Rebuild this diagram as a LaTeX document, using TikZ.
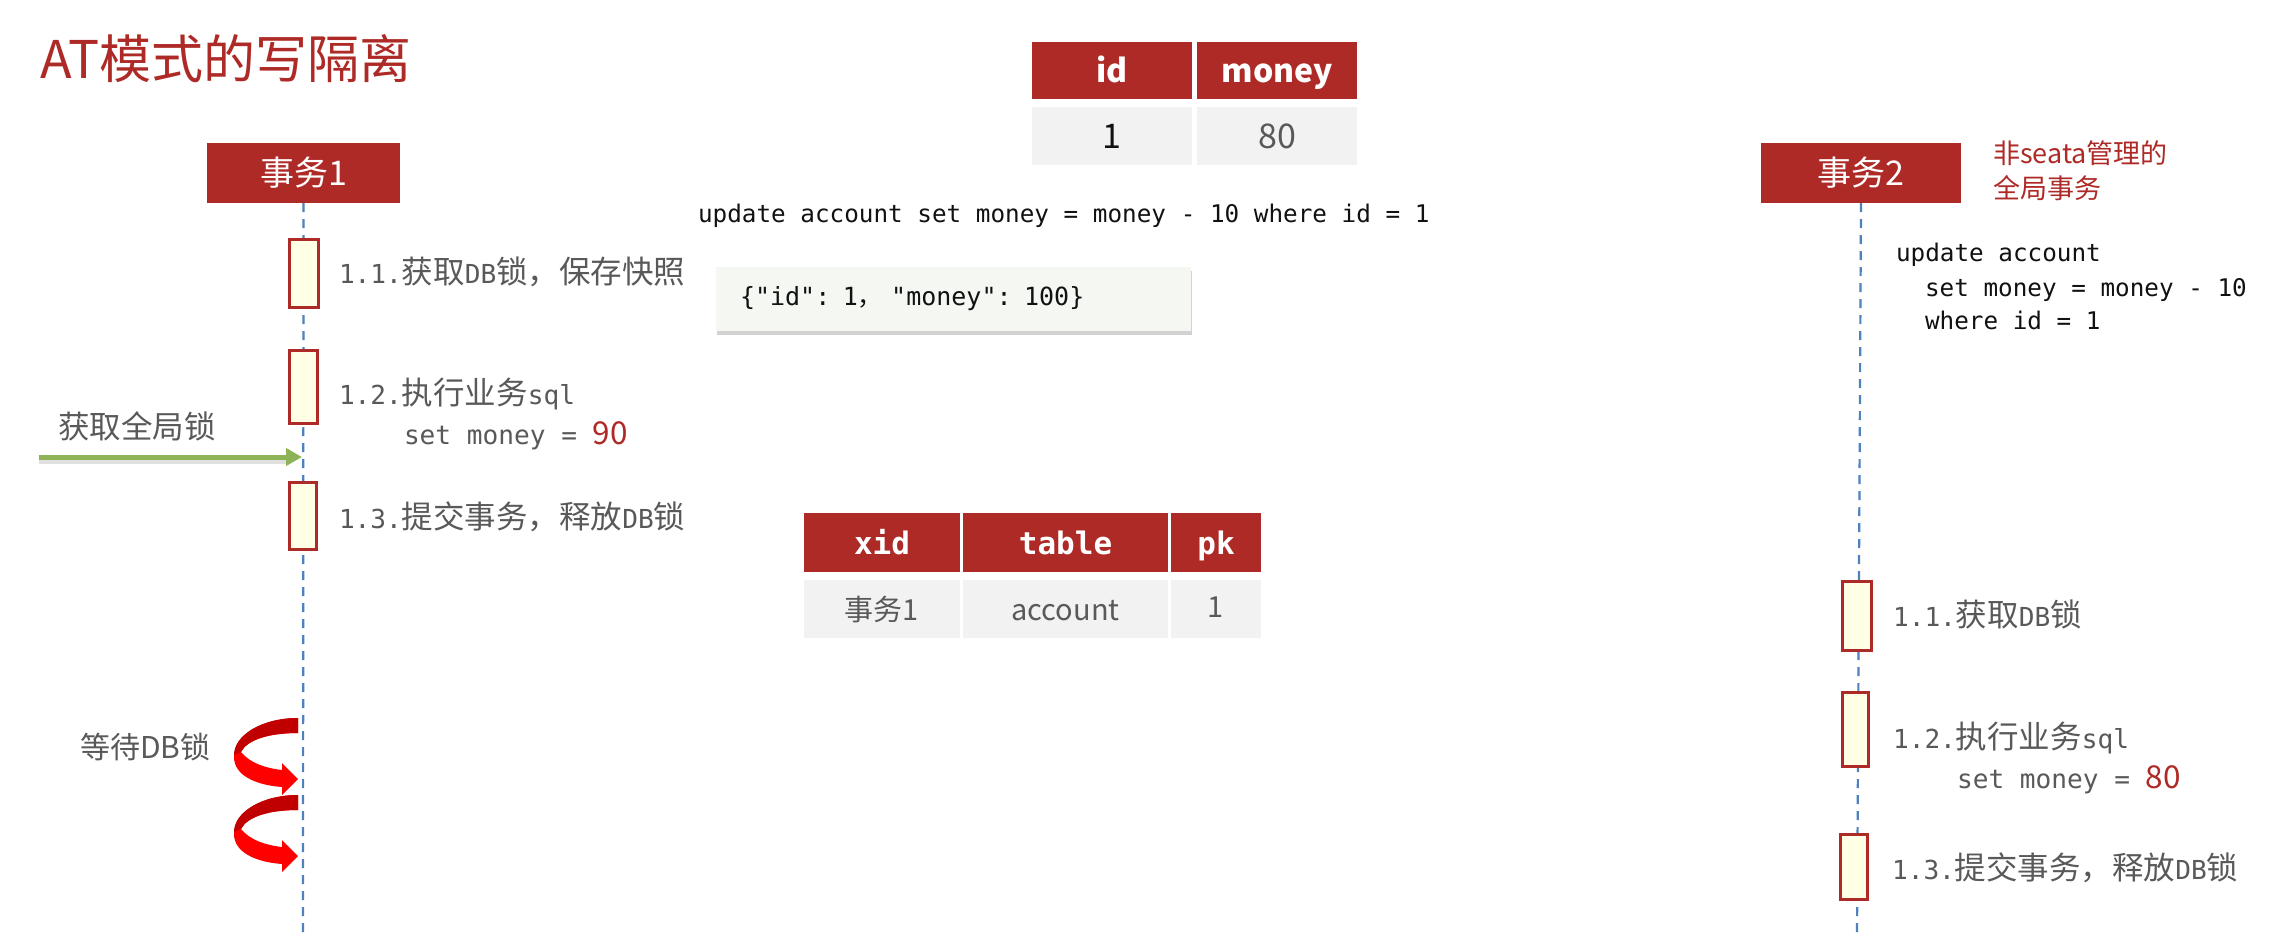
\documentclass[tikz,border=0pt]{standalone}
\usepackage{fontspec}
\setmainfont{Noto Sans CJK SC}
\newfontfamily\codef{DejaVu Sans Mono}
\newfontfamily\lmono[Scale=0.83]{DejaVu Sans Mono}
\newfontfamily\cjkf{Noto Sans CJK SC}
\usetikzlibrary{arrows.meta,shadows}
\definecolor{hdr}{HTML}{AE2A27}
\definecolor{cellg}{HTML}{F2F2F2}
\definecolor{txtg}{HTML}{595959}
\definecolor{lifeb}{HTML}{4F81BD}
\definecolor{actf}{HTML}{FFFFE6}
\definecolor{grn}{HTML}{8DB356}
\definecolor{jsonf}{HTML}{F5F8F2}
\definecolor{curld}{HTML}{C00000}
\definecolor{curlb}{HTML}{FF0000}
\definecolor{codek}{HTML}{111111}
\begin{document}
\begin{tikzpicture}[x=1pt,y=-1pt,
  base/.style={inner sep=0pt, outer sep=0pt},
  title/.style={base, anchor=west, text=hdr, font=\fontsize{52}{58}\selectfont, text height=45.8pt, text depth=6.2pt},
  lbl/.style={base, anchor=west, text=txtg, font=\fontsize{31.5}{36}\selectfont, text height=27.7pt, text depth=3.8pt},
  code/.style={base, anchor=west, text=codek, font=\fontsize{24.3}{28}\selectfont\codef, text height=21.4pt, text depth=2.9pt},
  anno/.style={base, anchor=west, text=hdr, font=\fontsize{27}{32}\selectfont, text height=23.8pt, text depth=3.2pt},
  hdrbox/.style={base, fill=hdr, text=white, minimum height=60pt, font=\fontsize{34}{40}\selectfont, text height=29.9pt, text depth=4.1pt},
  thd/.style={base, fill=hdr, text=white, minimum height=57pt, minimum width=160pt, font=\fontsize{32}{36}\selectfont\bfseries, text height=28pt, text depth=3.8pt},
  tcell/.style={base, fill=cellg, minimum height=58pt, minimum width=160pt, font=\fontsize{34}{40}\selectfont, text height=29.9pt, text depth=4.1pt},
  xhd/.style={base, fill=hdr, text=white, minimum height=59pt, font=\fontsize{31}{36}\selectfont\codef\bfseries, text height=27pt, text depth=3.7pt},
  xcell/.style={base, fill=cellg, text=txtg, minimum height=58pt, font=\fontsize{29}{34}\selectfont, text height=25.5pt, text depth=3.5pt},
  lifeline/.style={draw=lifeb, line width=2.2pt, dash pattern=on 9pt off 7pt},
  act/.style={base, draw=hdr, line width=3pt, fill=actf},
  grnarrow/.style={draw=grn, line width=5pt, -{Triangle[length=16pt,width=17pt]}},
  jsonbox/.style={base, fill=jsonf, anchor=north west, minimum height=64pt, text width=427pt, inner xsep=24pt, align=left, text=codek, font=\fontsize{25}{29}\selectfont\codef, drop shadow={shadow xshift=1pt, shadow yshift=-4pt, opacity=0.35}}
]
\fill[white] (0,0) rectangle (2288,935);
\useasboundingbox (0,0) rectangle (2288,935);

% title
\node[title] (title) at (40,58.5) {AT模式的写隔离};

% participants
\node[hdrbox, minimum width=193pt] (t1) at (303.5,173) {事务1};
\node[hdrbox, minimum width=200pt] (t2) at (1861,173) {事务2};
\node[anno] (n1) at (1993,153) {非seata管理的};
\node[anno] (n2) at (1993,188) {全局事务};

% lifelines
\coordinate (t1e) at (303,935);
\coordinate (t2e) at (1857,935);
\draw[lifeline] (t1.south) -- (t1e);
\draw[lifeline] (t2.south) -- (t2e);

% activations left
\node[act, minimum width=29pt, minimum height=68pt] (a1) at (303.5,273) {};
\node[act, minimum width=28pt, minimum height=73pt] (a2) at (303,386.5) {};
\node[act, minimum width=27pt, minimum height=67pt] (a3) at (302.5,515.5) {};
% activations right
\node[act, minimum width=29pt, minimum height=69pt] (b1) at (1856.5,615.5) {};
\node[act, minimum width=26pt, minimum height=74pt] (b2) at (1855,729) {};
\node[act, minimum width=27pt, minimum height=65pt] (b3) at (1853.5,866.5) {};

% left labels
\node[lbl] (l11) at (339,272) {{\lmono 1.1.}获取{\lmono DB}锁，保存快照};
\node[lbl] (l12) at (339,393) {{\lmono 1.2.}执行业务{\lmono sql}};
\node[lbl] (l12b) at (404,433) {{\lmono set money = }{\color{hdr}90}};
\node[lbl] (l13) at (339,517) {{\lmono 1.3.}提交事务，释放{\lmono DB}锁};

% right labels
\node[lbl] (r11) at (1893,615) {{\lmono 1.1.}获取{\lmono DB}锁};
\node[lbl] (r12) at (1893,737) {{\lmono 1.2.}执行业务{\lmono sql}};
\node[lbl] (r12b) at (1957,777) {{\lmono set money = }{\color{hdr}80}};
\node[lbl] (r13) at (1892,868) {{\lmono 1.3.}提交事务，释放{\lmono DB}锁};

% right code
\node[code] (c1) at (1896,252) {update account};
\node[code] (c2) at (1925,287) {set money = money - 10};
\node[code] (c3) at (1925,320) {where id = 1};

% global lock arrow
\node[lbl] (gl) at (58,427) {获取全局锁};
\coordinate (gs) at (39,457);
\coordinate (ge) at (302,457);
\draw[line width=6pt, black, opacity=0.12] ([yshift=-4pt]gs) -- ([yshift=-4pt,xshift=-14pt]ge);
\draw[grnarrow] (gs) -- (ge);

% wait DB lock
\node[lbl, font=\fontsize{30}{34}\selectfont, text height=26.4pt, text depth=3.6pt] (wl) at (80,747) {等待DB锁};
\foreach \o in {0,77}{
  \begin{scope}[shift={(0,\o)}]
    \fill[curlb] (298,718) -- (298,733) .. controls (268,733) and (247,740) .. (241,752)
      .. controls (250,763) and (265,768) .. (282,770) -- (282,763) -- (298,779) -- (282,795) -- (282,787)
      .. controls (255,785) and (234,775) .. (234,757) .. controls (234,735) and (262,718) .. (298,718) -- cycle;
    \fill[curld] (298,718) -- (298,733) .. controls (268,733) and (247,740) .. (241,752)
      -- (234,755) .. controls (234,735) and (262,718) .. (298,718) -- cycle;
  \end{scope}
}

% top table
\node[thd] (hid) at (1112,70.5) {id};
\node[thd] (hmoney) at (1277,70.5) {money};
\node[tcell, text=codek] (cid) at (1112,136) {1};
\node[tcell, text=txtg] (cmoney) at (1277,136) {80};

% update statement
\node[code] (upd) at (698,213) {update account set money = money - 10 where id = 1};

% json snapshot
\node[jsonbox] (js) at (716,267) {\{"id": 1{\cjkf ，} "money": 100\}};

% lock table
\node[xhd, minimum width=156pt] (xh) at (882,542.5) {xid};
\node[xhd, minimum width=205pt] (tbh) at (1065.5,542.5) {table};
\node[xhd, minimum width=90pt] (pkh) at (1216,542.5) {pk};
\node[xcell, minimum width=156pt] (xc) at (882,609) {事务1};
\node[xcell, minimum width=205pt] (tbc) at (1065.5,609) {account};
\node[xcell, minimum width=90pt] (pkc) at (1216,609) {\raisebox{3pt}{1}};
\end{tikzpicture}
\end{document}
